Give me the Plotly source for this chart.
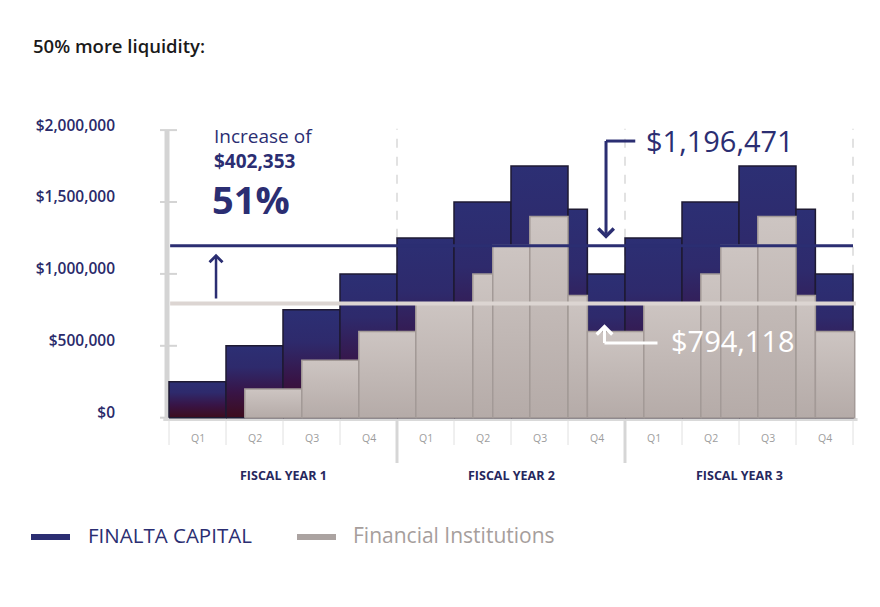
import plotly.graph_objects as go

# ---------------- data ----------------
title_text = "50% more liquidity:"
series_names = ["FINALTA CAPITAL", "Financial Institutions"]

# Finalta Capital bars: period start / end (in quarters from start of FY1) and value
finalta_start = [0, 1, 2, 3, 4, 5, 6, 7, 7.34, 8, 9, 10, 11, 11.34]
finalta_end = [1, 2, 3, 4, 5, 6, 7, 7.34, 8, 9, 10, 11, 11.34, 12]
finalta_value = [250000, 500000, 750000, 1000000, 1250000, 1500000, 1750000,
                 1450000, 1000000, 1250000, 1500000, 1750000, 1450000, 1000000]

# Financial Institutions bars
inst_start = [1.33, 2.33, 3.33, 4.33, 5.33, 5.68, 6.33, 7, 7.34, 8.33, 9.33, 9.68, 10.33, 11, 11.34]
inst_end = [2.33, 3.33, 4.33, 5.33, 5.68, 6.33, 7, 7.34, 8.33, 9.33, 9.68, 10.33, 11, 11.34, 12.03]
inst_value = [200000, 400000, 600000, 800000, 1000000, 1200000, 1400000, 850000,
              600000, 800000, 1000000, 1200000, 1400000, 850000, 600000]

finalta_avg = 1196471
inst_avg = 794118
increase_text = "$402,353"
increase_pct = "51%"

y_tick_vals = [0, 500000, 1000000, 1500000, 2000000]
y_tick_text = ["$0", "$500,000", "$1,000,000", "$1,500,000", "$2,000,000"]
quarter_labels = ["Q1", "Q2", "Q3", "Q4"] * 3
fiscal_years = ["FISCAL YEAR 1", "FISCAL YEAR 2", "FISCAL YEAR 3"]

# ---------------- style ----------------
NAVY = "#2b2e72"
FONT = "Open Sans"
# page has an 8px body margin; figure is sized to fit inside it
OFF = 8
W, H = 864, 591
PAGE_L, PAGE_R, PAGE_T, PAGE_B = 160, 860, 110, 480
L = PAGE_L - OFF
T = PAGE_T - OFF
R = W - (PAGE_R - OFF)
B = H - (PAGE_B - OFF)
PW, PH = PAGE_R - PAGE_L, PAGE_B - PAGE_T

def px(x):
    return (x - PAGE_L) / PW

def py(y):
    return (PAGE_B - y) / PH

fig = go.Figure()

# Finalta bars (gradient)
for s, e, v in zip(finalta_start, finalta_end, finalta_value):
    fig.add_trace(go.Scatter(
        x=[s, s, e, e, s], y=[0, v, v, 0, 0], mode="lines", fill="toself",
        fillgradient=dict(type="vertical", start=0, stop=v,
                          colorscale=[[0, "#3d0c1d"], [0.35, "#381446"], [0.7, "#2e2a6c"], [1, "#2c2f74"]]),
        line=dict(color="#1e1a33", width=1.5), hoverinfo="skip", showlegend=False))

# Financial institutions bars
for s, e, v in zip(inst_start, inst_end, inst_value):
    fig.add_trace(go.Scatter(
        x=[s, s, e, e, s], y=[0, v, v, 0, 0], mode="lines", fill="toself",
        fillgradient=dict(type="vertical", start=0, stop=v,
                          colorscale=[[0, "#b5aba8"], [1, "#cdc5c2"]]),
        line=dict(color="#a39a97", width=1.5), hoverinfo="skip", showlegend=False))

# average lines
fig.add_trace(go.Scatter(x=[0.02, 12], y=[finalta_avg, finalta_avg], mode="lines",
                         line=dict(color=NAVY, width=3), hoverinfo="skip", showlegend=False))
fig.add_trace(go.Scatter(x=[0.02, 12.05], y=[inst_avg, inst_avg], mode="lines",
                         line=dict(color="#dcd5d2", width=4), hoverinfo="skip", showlegend=False))

shapes = []
# dashed fiscal year separators in plot
for q in [4, 8, 12]:
    shapes.append(dict(type="line", xref="x", yref="y", x0=q, x1=q, y0=0, y1=2010000,
                       line=dict(color="#d9d9d9", width=1.5, dash="dash"), layer="below"))
# y axis line
shapes.append(dict(type="line", xref="x", yref="y", x0=-0.035, x1=-0.035, y0=-20000, y1=2000000,
                   line=dict(color="#d4d4d4", width=5), layer="below"))
for v in y_tick_vals:
    shapes.append(dict(type="line", xref="x", yref="y", x0=-0.16, x1=0.14, y0=v, y1=v,
                       line=dict(color="#d4d4d4", width=2), layer="below"))
# baseline
shapes.append(dict(type="line", xref="x", yref="y", x0=-0.1, x1=12.08, y0=-12000, y1=-12000,
                   line=dict(color="#d9d9d9", width=3), layer="below"))
# quarter separators below axis
for q in range(13):
    if q in (4, 8):
        shapes.append(dict(type="line", xref="x", yref="y", x0=q, x1=q, y0=-20000, y1=-315000,
                           line=dict(color="#d6d6d6", width=3)))
    else:
        shapes.append(dict(type="line", xref="x", yref="y", x0=q, x1=q, y0=-20000, y1=-190000,
                           line=dict(color="#e0e0e0", width=1)))
# bent arrow shafts
shapes.append(dict(type="line", xref="x", yref="y", x0=7.667, x1=8.18, y0=1924000, y1=1924000,
                   line=dict(color=NAVY, width=3)))
shapes.append(dict(type="line", xref="x", yref="y", x0=7.64, x1=8.57, y0=519000, y1=519000,
                   line=dict(color="white", width=3)))
# legend swatches
shapes.append(dict(type="line", xref="paper", yref="paper", x0=px(31), x1=px(70), y0=py(537), y1=py(537),
                   line=dict(color=NAVY, width=6)))
shapes.append(dict(type="line", xref="paper", yref="paper", x0=px(297), x1=px(336), y0=py(537), y1=py(537),
                   line=dict(color="#aba3a1", width=6)))

ann = []
ann.append(dict(text=title_text, xref="paper", yref="paper", x=px(31), y=py(45), xanchor="left",
                yanchor="middle", showarrow=False, font=dict(family=FONT, size=18.5, color="#1a1a1a", weight=600)))
ann.append(dict(text="Increase of<br><b>" + increase_text + "</b>", xref="x", yref="y", x=0.77, y=1873000,
                xanchor="left", yanchor="middle", align="left", showarrow=False, borderpad=0,
                font=dict(family=FONT, size=19, color=NAVY)))
ann.append(dict(text="<b>" + increase_pct + "</b>", xref="x", yref="y", x=0.74, y=1522000, xanchor="left",
                yanchor="middle", showarrow=False, borderpad=0, height=42,
                font=dict(family=FONT, size=38, color=NAVY)))
# up arrow
ann.append(dict(text="", xref="x", yref="y", axref="x", ayref="y", x=0.825, y=1140000, ax=0.825, ay=818000,
                showarrow=True, arrowhead=4, arrowsize=1, arrowwidth=2.5, arrowcolor=NAVY))
# down arrow to finalta avg
ann.append(dict(text="", xref="x", yref="y", axref="x", ayref="y", x=7.667, y=1245000, ax=7.667, ay=1935000,
                showarrow=True, arrowhead=4, arrowsize=1, arrowwidth=3, arrowcolor=NAVY))
ann.append(dict(text=f"${finalta_avg:,}", xref="x", yref="y", x=8.33, y=1930000, xanchor="left",
                yanchor="middle", showarrow=False, font=dict(family=FONT, size=29, color=NAVY)))
# up arrow white
ann.append(dict(text="", xref="x", yref="y", axref="x", ayref="y", x=7.64, y=650000, ax=7.64, ay=509000,
                showarrow=True, arrowhead=4, arrowsize=1, arrowwidth=3, arrowcolor="white"))
ann.append(dict(text=f"${inst_avg:,}", xref="x", yref="y", x=8.77, y=535000, xanchor="left",
                yanchor="middle", showarrow=False, font=dict(family=FONT, size=29, color="white")))
# quarter labels
for i, q in enumerate(quarter_labels):
    ann.append(dict(text=q, xref="x", yref="y", x=i + 0.5, y=-140000, showarrow=False,
                    font=dict(family=FONT, size=10.5, color="#9d9d9d")))
for i, fy in enumerate(fiscal_years):
    ann.append(dict(text="<b>" + fy + "</b>", xref="x", yref="y", x=4 * i + 2, y=-400000, showarrow=False,
                    font=dict(family=FONT, size=12.5, color="#27285e")))
# legend labels
ann.append(dict(text=series_names[0], xref="paper", yref="paper", x=px(86), y=py(535), xanchor="left",
                yanchor="middle", showarrow=False, font=dict(family=FONT, size=20.5, color=NAVY)))
ann.append(dict(text=series_names[1], xref="paper", yref="paper", x=px(351), y=py(535), xanchor="left",
                yanchor="middle", showarrow=False, font=dict(family=FONT, size=21, color="#a69e9c")))

y_lo = -(PAGE_B - 417.7) / 0.1438 * 1000
y_hi = (417.7 - PAGE_T) / 0.1438 * 1000

fig.update_layout(
    width=W, height=H, margin=dict(l=L, r=R, t=T, b=B),
    paper_bgcolor="white", plot_bgcolor="white",
    xaxis=dict(range=[-9 / 57, 691 / 57], visible=False, fixedrange=True),
    yaxis=dict(range=[y_lo, y_hi], showgrid=False, zeroline=False, showline=False,
               tickvals=y_tick_vals, ticktext=y_tick_text, ticks="",
               ticklabelstandoff=44, ticklabelshift=-5,
               tickfont=dict(family=FONT, size=15.5, color="#2a2a6a", weight=600), fixedrange=True),
    shapes=shapes, annotations=ann, showlegend=False,
)

fig.write_html("out.html")
